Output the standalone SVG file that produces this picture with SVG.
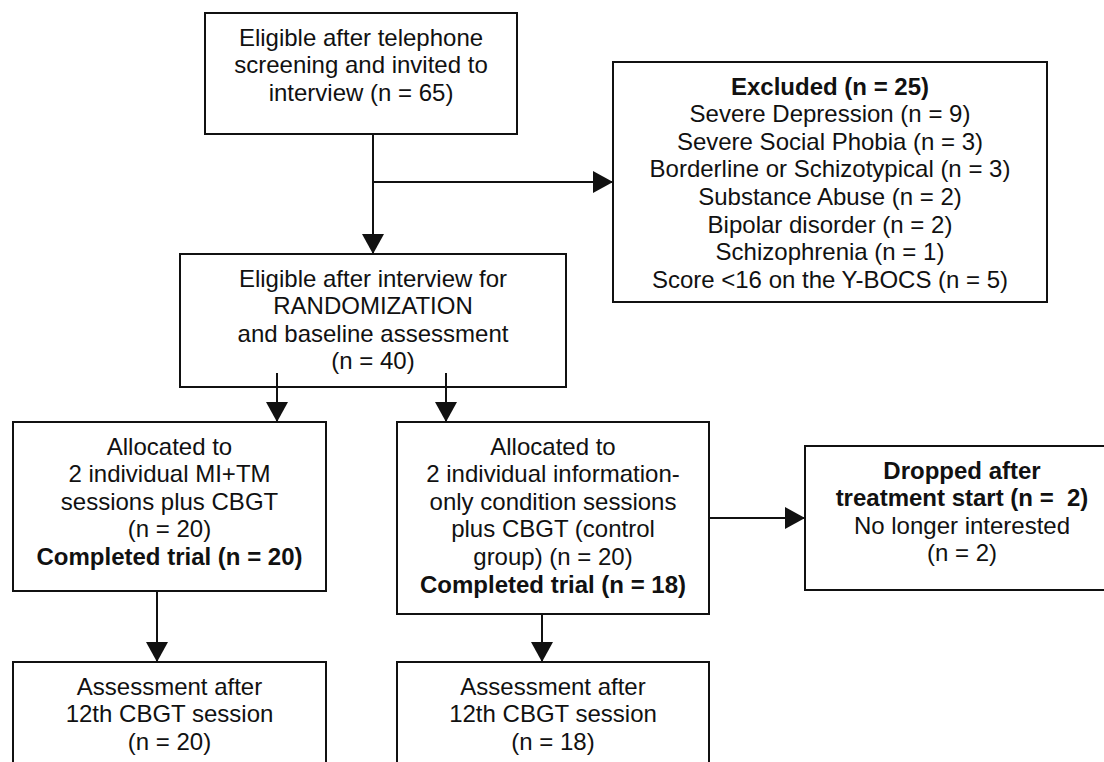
<svg xmlns="http://www.w3.org/2000/svg" width="1104" height="762" viewBox="0 0 1104 762">
<style>
.box{fill:#fff;stroke:#111;stroke-width:2}
.t{font-family:"Liberation Sans",Arial,sans-serif;font-size:24px;fill:#111;text-anchor:middle}
.b{font-weight:bold}
.c{stroke:#111;stroke-width:2;fill:none}
</style>
<defs>
<marker id="ah" viewBox="0 0 20 22" refX="20" refY="11" markerWidth="20" markerHeight="22" markerUnits="userSpaceOnUse" orient="auto">
<path d="M0,0 L20,11 L0,22 z" fill="#111"/>
</marker>
</defs>
<rect width="1104" height="762" fill="#fff"/>
<g id="screening">
<rect class="box" x="205" y="13" width="312" height="121"/>
<text class="t" x="361" y="45.6">Eligible after telephone</text>
<text class="t" x="361" y="73.2">screening and invited to</text>
<text class="t" x="361" y="100.8">interview (n = 65)</text>
</g>
<g id="excluded">
<rect class="box" x="613" y="62" width="434" height="240"/>
<text class="t b" x="830" y="94.6">Excluded (n = 25)</text>
<text class="t" x="830" y="122.2">Severe Depression (n = 9)</text>
<text class="t" x="830" y="149.8">Severe Social Phobia (n = 3)</text>
<text class="t" x="830" y="177.4">Borderline or Schizotypical (n = 3)</text>
<text class="t" x="830" y="205">Substance Abuse (n = 2)</text>
<text class="t" x="830" y="232.6">Bipolar disorder (n = 2)</text>
<text class="t" x="830" y="260.2">Schizophrenia (n = 1)</text>
<text class="t" x="830" y="287.8">Score &lt;16 on the Y-BOCS (n = 5)</text>
</g>
<g id="randomization">
<rect class="box" x="180" y="254" width="386" height="133"/>
<text class="t" x="373" y="286.6">Eligible after interview for</text>
<text class="t" x="373" y="314.2">RANDOMIZATION</text>
<text class="t" x="373" y="341.8">and baseline assessment</text>
<text class="t" x="373" y="369.4">(n = 40)</text>
</g>
<g id="alloc-mitm">
<rect class="box" x="13" y="422" width="313" height="169"/>
<text class="t" x="169.5" y="454.6">Allocated to</text>
<text class="t" x="169.5" y="482.2">2 individual MI+TM</text>
<text class="t" x="169.5" y="509.8">sessions plus CBGT</text>
<text class="t" x="169.5" y="537.4">(n = 20)</text>
<text class="t b" x="169.5" y="565">Completed trial (n = 20)</text>
</g>
<g id="alloc-info">
<rect class="box" x="397" y="422" width="312" height="192"/>
<text class="t" x="553" y="454.6">Allocated to</text>
<text class="t" x="553" y="482.2">2 individual information-</text>
<text class="t" x="553" y="509.8">only condition sessions</text>
<text class="t" x="553" y="537.4">plus CBGT (control</text>
<text class="t" x="553" y="565">group) (n = 20)</text>
<text class="t b" x="553" y="592.6">Completed trial (n = 18)</text>
</g>
<g id="dropped">
<rect class="box" x="805" y="446" width="314" height="144"/>
<text class="t b" x="962" y="478.6">Dropped after</text>
<text class="t b" x="962" y="506.2" xml:space="preserve">treatment start (n =  2)</text>
<text class="t" x="962" y="533.8">No longer interested</text>
<text class="t" x="962" y="561.4">(n = 2)</text>
</g>
<g id="assess-mitm">
<rect class="box" x="13" y="662" width="313" height="120"/>
<text class="t" x="169.5" y="694.6">Assessment after</text>
<text class="t" x="169.5" y="722.2">12th CBGT session</text>
<text class="t" x="169.5" y="749.8">(n = 20)</text>
</g>
<g id="assess-info">
<rect class="box" x="397" y="662" width="312" height="120"/>
<text class="t" x="553" y="694.6">Assessment after</text>
<text class="t" x="553" y="722.2">12th CBGT session</text>
<text class="t" x="553" y="749.8">(n = 18)</text>
</g>
<g id="connectors">
<line class="c" x1="373" y1="134" x2="373" y2="254" marker-end="url(#ah)"/>
<line class="c" x1="373" y1="182" x2="613" y2="182" marker-end="url(#ah)"/>
<line class="c" x1="277" y1="373" x2="277" y2="422" marker-end="url(#ah)"/>
<line class="c" x1="446" y1="373" x2="446" y2="422" marker-end="url(#ah)"/>
<line class="c" x1="157" y1="591" x2="157" y2="662" marker-end="url(#ah)"/>
<line class="c" x1="542" y1="614" x2="542" y2="662" marker-end="url(#ah)"/>
<line class="c" x1="709" y1="518" x2="805" y2="518" marker-end="url(#ah)"/>
</g>
</svg>
